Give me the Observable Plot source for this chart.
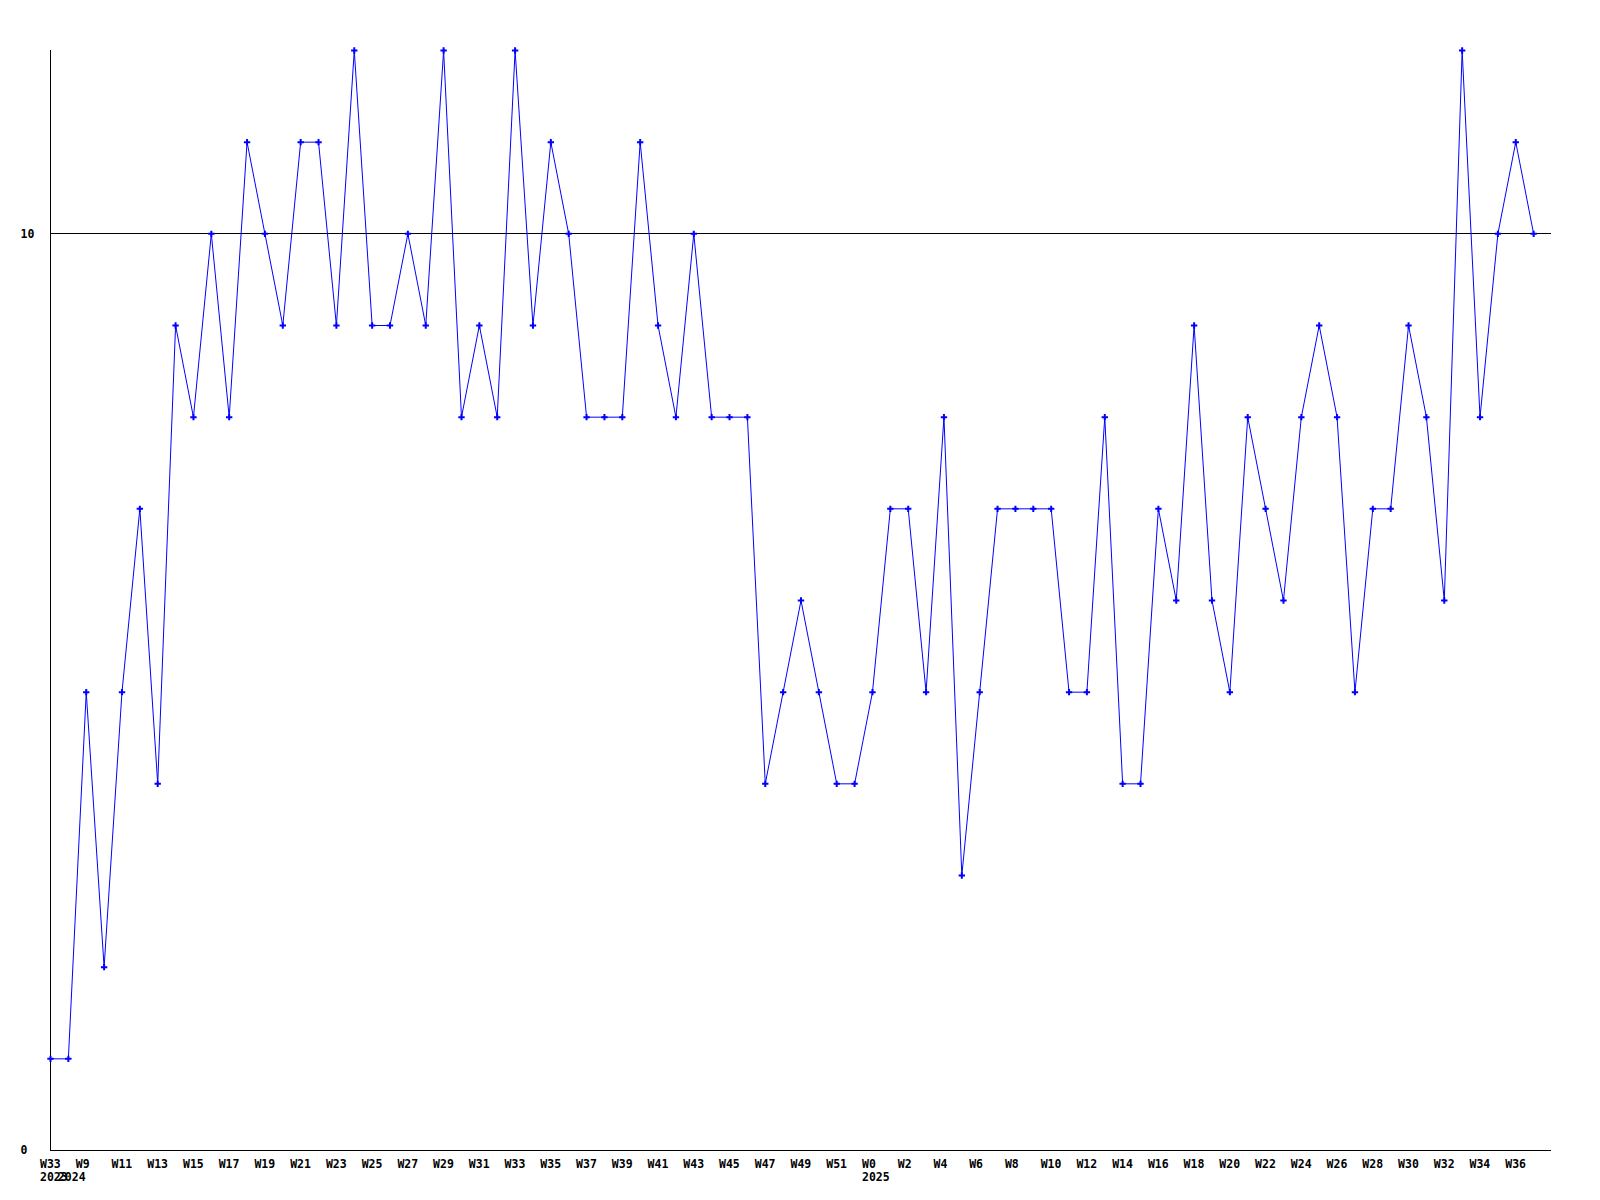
<!DOCTYPE html>
<html>
<head>
<meta charset="utf-8">
<script src="https://cdn.jsdelivr.net/npm/d3@7"></script>
<script src="https://cdn.jsdelivr.net/npm/@observablehq/plot@0.6"></script>
<style>
  html, body { margin: 0; padding: 0; background: #fff; }
  #chart svg { display: block; }
</style>
</head>
<body>
<div id="chart"></div>
<script>
// Week labels for each data point (index order)
const weeks = [
  "W33",
  "W8","W9","W10","W11","W12","W13","W14","W15","W16","W17","W18","W19","W20","W21","W22","W23","W24","W25","W26","W27","W28","W29","W30","W31","W32","W33","W34","W35","W36","W37","W38","W39","W40","W41","W42","W43","W44","W45","W46","W47","W48","W49","W50","W51","W52",
  "W0","W1","W2","W3","W4","W5","W6","W7","W8","W9","W10","W11","W12","W13","W14","W15","W16","W17","W18","W19","W20","W21","W22","W23","W24","W25","W26","W27","W28","W29","W30","W31","W32","W33","W34","W35","W36","W37"
];
const values = [
  1,
  1,5,2,5,7,4,9,8,10,8,11,10,9,11,11,9,12,9,9,10,9,12,8,9,8,12,9,11,10,8,8,8,11,9,8,10,8,8,8,4,5,6,5,4,4,
  5,7,7,5,8,3,5,7,7,7,7,5,5,8,4,4,7,6,9,6,5,8,7,6,8,9,8,5,7,7,9,8,6,12,8,10,11,10
];
// year labels: [point index, label]
const yearIdx = [0, 1, 46];
const yearText = ["2023", "2024", "2025"];
const yTicks = [0, 10];
const refLine = 10;

const data = values.map((v, i) => ({i, v, w: weeks[i]}));
const xTicks = d3.range(0, weeks.length, 2);
const years = yearIdx.map((i, k) => ({i, t: yearText[k]}));

const font = "'DejaVu Sans Mono', monospace";

const chart = Plot.plot({
  width: 1600,
  height: 1200,
  marginLeft: 50,
  marginRight: 49,
  marginTop: 50,
  marginBottom: 50,
  style: {fontFamily: font, fontSize: "11.5px", fontWeight: "bold", background: "#fff", color: "#000"},
  x: {domain: [0, 84]},
  y: {domain: [0, 12]},
  marks: [
    Plot.axisX({
      ticks: xTicks, tickSize: 0, tickPadding: 0,
      tickFormat: i => weeks[i],
      textAnchor: "start", dx: -10.5, dy: 9,
      label: null, fontWeight: "bold"
    }),
    Plot.text(years, {
      x: "i", text: "t", frameAnchor: "bottom",
      textAnchor: "start", dx: -10.5, dy: 30, fontWeight: "bold"
    }),
    Plot.axisY({
      ticks: yTicks, tickSize: 0, tickPadding: 0,
      textAnchor: "start", dx: -30, label: null, fontWeight: "bold"
    }),
    Plot.ruleY([refLine], {stroke: "#000", strokeWidth: 1, shapeRendering: "crispEdges"}),
    Plot.ruleX([0], {stroke: "#000", strokeWidth: 1, shapeRendering: "crispEdges"}),
    Plot.ruleY([0], {stroke: "#000", strokeWidth: 1, shapeRendering: "crispEdges"}),
    Plot.line(data, {x: "i", y: "v", stroke: "#0000ff", strokeWidth: 1}),
    Plot.dot(data, {x: "i", y: "v", symbol: "plus", r: 2.2, stroke: "#0000ff", strokeWidth: 2})
  ]
});
document.getElementById("chart").appendChild(chart);
</script>
</body>
</html>
